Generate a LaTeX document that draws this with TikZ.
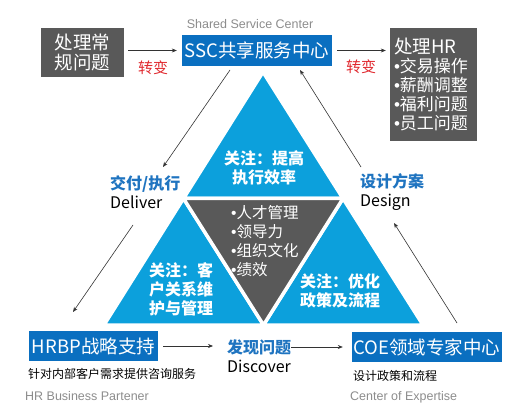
\documentclass[tikz,border=0pt]{standalone}
\usepackage{fontspec}
\setmainfont{Noto Sans CJK SC}
\newfontfamily\arialfont{Liberation Sans}
\newcommand{\dotmark}{{\arialfont •}}
\usetikzlibrary{positioning,arrows.meta,calc}
\definecolor{triblue}{HTML}{0CA0DC}
\definecolor{boxblue}{HTML}{0A6FC0}
\definecolor{darkgray}{HTML}{595959}
\definecolor{labelblue}{HTML}{1F74C0}
\definecolor{turnred}{HTML}{E0282E}
\definecolor{engray}{HTML}{8C8C8C}

\begin{document}
\begin{tikzpicture}
        [x=1pt,y=-1pt,
        >={Stealth[length=5pt,width=4pt]},
        arr/.style={->,draw=black!80,line width=0.6pt},
        tri/.style={draw=white,line width=3.5pt,line join=round},
        box/.style={fill=#1,text=white,inner sep=0pt,font=\fontsize{18.5}{20}\selectfont},
        turn/.style={text=turnred,inner sep=0pt,font=\fontsize{15}{17}\selectfont},
        focus/.style={text=white,inner sep=0pt,align=center,font=\fontsize{16}{19}\selectfont\bfseries},
        core/.style={text=white,inner sep=0pt,align=left,font=\fontsize{15.5}{19}\selectfont},
        stage/.style={inner sep=0pt,align=left,anchor=west,font=\fontsize{16}{19}\selectfont},
        note/.style={inner sep=0pt,anchor=west,font=\fontsize{12}{14}\selectfont},
        en/.style={inner sep=0pt,anchor=west,text=engray,font=\arialfont\fontsize{12.5}{14}\selectfont}]
        \useasboundingbox (0,0) rectangle (517,414);

        \coordinate (top) at (263,72);
        \coordinate (bl) at (104,325);
        \coordinate (br) at (423,325);
        \coordinate (ml) at ($(top)!.5!(bl)$);
        \coordinate (mr) at ($(top)!.5!(br)$);
        \coordinate (mb) at ($(bl)!.5!(br)$);
        \filldraw[tri,fill=triblue] (top) -- (ml) -- (mr) -- cycle;
        \filldraw[tri,fill=triblue] (ml) -- (bl) -- (mb) -- cycle;
        \filldraw[tri,fill=triblue] (mr) -- (mb) -- (br) -- cycle;
        \filldraw[tri,fill=darkgray] (ml) -- (mr) -- (mb) -- cycle;

        \node[focus] (effic) at (264,168) {关注：提高\\执行效率};
        \node[focus] (client) at (181,289) {关注：客\\户关系维\\护与管理};
        \node[focus] (policy) at (340,291) {关注：优化\\政策及流程};
        \node[core,anchor=west] (topics) at (231,241) {\dotmark{}人才管理\\\dotmark{}领导力\\\dotmark{}组织文化\\\dotmark{}绩效};

        \node[box=darkgray,minimum width=83,minimum height=49,align=center] (routine) at (82.5,52.5) {处理常\\规问题};
        \node[box=boxblue,minimum width=150,minimum height=31] (ssc) at (257,50.5) {SSC共享服务中心};
        \node[en,anchor=south] (sscen) at (250,29) {Shared Service Center};
        \node[box=darkgray,minimum width=87,minimum height=113,align=left,text width=79,
            font=\fontsize{17}{19}\selectfont] (hrwork) at (433.5,84.5)
            {{\fontsize{18.5}{19}\selectfont 处理HR}\\\dotmark{}交易操作\\\dotmark{}薪酬调整\\\dotmark{}福利问题\\\dotmark{}员工问题};

        \node[box=boxblue,minimum width=129,minimum height=30] (hrbp) at (93.5,346) {HRBP战略支持};
        \node[note] (hrbpnote) at (28,374) {针对内部客户需求提供咨询服务};
        \node[en] (hrbpen) at (25,396) {HR Business Partener};
        \node[box=boxblue,minimum width=150,minimum height=30] (coe) at (427,347) {COE领域专家中心};
        \node[note] (coenote) at (353,376) {设计政策和流程};
        \node[en] (coeen) at (350,397) {Center of Expertise};

        \node[stage] (deliver) at (110,192.5) {\textcolor{labelblue}{\bfseries 交付/执行}\\Deliver};
        \node[stage] (design) at (360,192.5) {\textcolor{labelblue}{\bfseries 设计方案}\\Design};
        \node[stage] (discover) at (227,356) {\textcolor{labelblue}{\bfseries 发现问题}\\Discover};

        \draw[arr,shorten <=4pt,shorten >=5pt] (routine.east |- ssc) -- node[turn,yshift=-17pt]{转变} (ssc.west);
        \draw[arr,shorten <=5pt,shorten >=4pt] (ssc.east) -- node[turn,yshift=-16pt]{转变} (ssc.east -| hrwork.west);
        \draw[arr,shorten <=5pt,shorten >=14pt] (hrbp.east) -- (hrbp.east -| discover.west);
        \draw[arr,shorten >=9pt] (discover.east |- coe) -- (coe.west);

        \coordinate (sscdown) at (230,70);
        \coordinate (delivtop) at (163,167);
        \coordinate (delivbot) at (133,225);
        \coordinate (hrbptop) at (73,312);
        \coordinate (coetop) at (457,323);
        \coordinate (desbot) at (394,223);
        \coordinate (destop) at (361,167);
        \coordinate (sscup) at (300,70);
        \draw[arr] (sscdown) -- (delivtop);
        \draw[arr] (delivbot) -- (hrbptop);
        \draw[arr] (coetop) -- (desbot);
        \draw[arr] (destop) -- (sscup);
    \end{tikzpicture}
\end{document}
